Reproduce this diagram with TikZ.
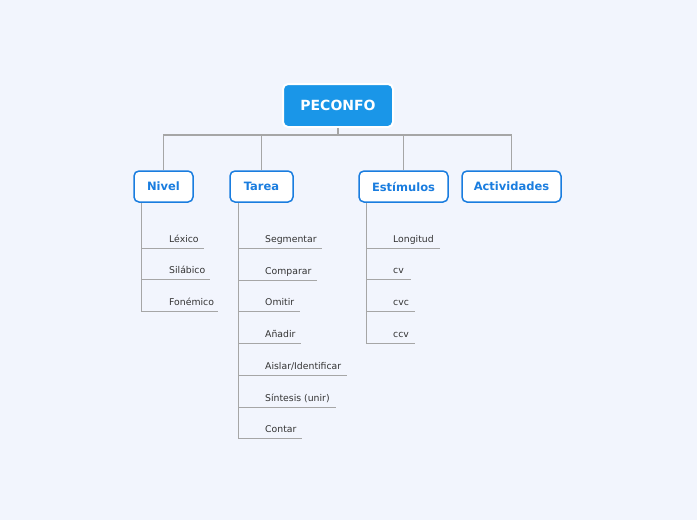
\documentclass[tikz,border=0pt]{standalone}
\usepackage{fontspec}
\setmainfont{DejaVu Sans}
\definecolor{bg}{HTML}{F2F5FD}
\definecolor{rootblue}{HTML}{1A96E8}
\definecolor{nodeblue}{HTML}{1A7DDF}
\definecolor{leafgray}{HTML}{333333}
\definecolor{linegray}{HTML}{A6A6A6}
\tikzset{
  rootbox/.style={draw=white, line width=2pt, fill=rootblue, rounded corners=5pt, text=white,
    font=\bfseries\fontsize{14}{16}\selectfont, minimum width=110pt, minimum height=43pt, inner sep=0pt},
  topic/.style={draw=nodeblue, line width=1.5pt, fill=white, rounded corners=5pt, text=nodeblue,
    font=\bfseries\fontsize{11.5}{14}\selectfont, minimum height=31pt, inner sep=0pt},
  leaf/.style={anchor=base west, text=leafgray, font=\fontsize{9.3}{11}\selectfont, inner sep=0pt},
  conn/.style={draw=linegray, line width=1.3pt},
  uline/.style={draw=linegray, line width=0.9pt},
}
\begin{document}
\begin{tikzpicture}[x=1pt,y=-1pt]
\fill[bg] (0,0) rectangle (697,520);
\useasboundingbox (0,0) rectangle (697,520);

\node[rootbox] (root) at (338,105.5) {PECONFO};
\node[topic, minimum width=59pt] (nivel) at (163.5,186.5) {Nivel};
\node[topic, minimum width=63pt] (tarea) at (261.5,186.5) {Tarea};
\node[topic, minimum width=89pt] (estim) at (403.5,186.5) {Estímulos};
\node[topic, minimum width=99pt] (activ) at (511.5,186.5) {Actividades};

\coordinate (bus) at (338,135);
\draw[conn] (root.south) -- (bus);
\draw[conn] (nivel.north) |- (bus);
\draw[conn] (tarea.north) |- (bus);
\draw[conn] (estim.north) |- (bus);
\draw[conn] (activ.north) |- (bus);

% Nivel
\coordinate (nt) at ([xshift=8pt]nivel.south west);
\draw[uline] (nt) -- (nt |- 0,311);
\foreach \n/\yy/\xe/\t in {n1/248/204/Léxico, n2/279/210/Silábico, n3/311/218/Fonémico}{
  \node[leaf] (\n) at (169,\yy-6) {\t};
  \coordinate (\n e) at (\xe,\yy);
  \draw[uline] (nt |- \n e) -- (\n e);
}

% Tarea
\coordinate (tt) at ([xshift=9pt]tarea.south west);
\draw[uline] (tt) -- (tt |- 0,438);
\foreach \n/\yy/\xe/\t in {t1/248/322/Segmentar, t2/280/317/Comparar, t3/311/300/Omitir, t4/343/301/Añadir, t5/375/347/{Aislar/Identificar}, t6/407/336/Síntesis (unir), t7/438/302/Contar}{
  \node[leaf] (\n) at (265,\yy-6) {\t};
  \coordinate (\n e) at (\xe,\yy);
  \draw[uline] (tt |- \n e) -- (\n e);
}

% Estimulos
\coordinate (et) at ([xshift=8pt]estim.south west);
\draw[uline] (et) -- (et |- 0,343);
\foreach \n/\yy/\xe/\t in {e1/248/440/Longitud, e2/279/411/cv, e3/311/415/cvc, e4/343/415/ccv}{
  \node[leaf] (\n) at (393,\yy-6) {\t};
  \coordinate (\n e) at (\xe,\yy);
  \draw[uline] (et |- \n e) -- (\n e);
}
\end{tikzpicture}
\end{document}
